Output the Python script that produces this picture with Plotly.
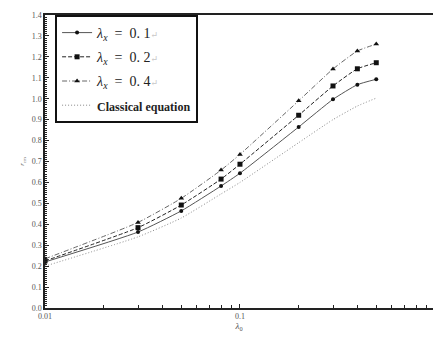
import plotly.graph_objects as go

lambda0 = [0.01, 0.03, 0.05, 0.08, 0.1, 0.2, 0.3, 0.4, 0.5]
r_lx01 = [0.220, 0.363, 0.464, 0.583, 0.644, 0.865, 0.997, 1.067, 1.093]
r_lx02 = [0.225, 0.384, 0.492, 0.616, 0.687, 0.921, 1.061, 1.143, 1.172]
r_lx04 = [0.235, 0.409, 0.524, 0.659, 0.734, 0.990, 1.142, 1.228, 1.261]
r_classic = [0.200, 0.340, 0.430, 0.545, 0.600, 0.790, 0.900, 0.965, 1.003]

names = ["<i>λ<sub>x</sub></i>  =  0. 1<span style='color:#c8c8c8;font-size:9px'>↵</span>",
         "<i>λ<sub>x</sub></i>  =  0. 2<span style='color:#c8c8c8;font-size:9px'>↵</span>",
         "<i>λ<sub>x</sub></i>  =  0. 4<span style='color:#c8c8c8;font-size:9px'>↵</span>",
         "<span style='font-size:12px'><b>Classical equation</b></span>"]

SERIF = "Liberation Serif, DejaVu Serif, serif"

fig = go.Figure()
fig.add_trace(go.Scatter(x=lambda0, y=r_lx01, name=names[0], legendgroup="a",
                         mode="lines+markers", line=dict(color="#555", width=1, shape="spline", smoothing=0.5),
                         marker=dict(symbol="circle", size=4, color="#111")))
fig.add_trace(go.Scatter(x=lambda0, y=r_lx02, name=names[1], legendgroup="b",
                         mode="lines+markers", line=dict(color="#222", width=1, dash="4px,2px", shape="spline", smoothing=0.5),
                         marker=dict(symbol="square", size=5, color="#111")))
fig.add_trace(go.Scatter(x=lambda0, y=r_lx04, name=names[2], legendgroup="c",
                         mode="lines+markers", line=dict(color="#666", width=1, dash="5px,2px,1px,2px", shape="spline", smoothing=0.5),
                         marker=dict(symbol="triangle-up", size=5, color="#111")))
fig.add_trace(go.Scatter(x=lambda0, y=r_classic, name=names[3], legendgroup="d",
                         mode="lines", line=dict(color="#888", width=1, dash="1px,2px", shape="spline", smoothing=0.5)))

minor_x = [0.02, 0.03, 0.04, 0.05, 0.06, 0.07, 0.08, 0.09, 0.2, 0.3, 0.4, 0.5, 0.6, 0.7, 0.8, 0.9]

fig.update_layout(
    width=433, height=338,
    margin=dict(l=45, r=0, t=15, b=30),
    paper_bgcolor="white", plot_bgcolor="white",
    font=dict(family=SERIF, color="#333"),
    showlegend=True,
    legend=dict(x=0.026, y=1.0, xanchor="left", yanchor="top",
                bordercolor="#111", borderwidth=2, bgcolor="white",
                font=dict(family=SERIF, size=14, color="#222"),
                tracegroupgap=3, itemwidth=30),
    xaxis=dict(type="log", range=[-2, -0.01],
               tickvals=[0.01, 0.1], ticktext=["0.01", "0.1"],
               ticks="inside", ticklen=4, tickcolor="#222",
               minor=dict(tickvals=minor_x, ticks="inside", ticklen=3, tickcolor="#222"),
               showline=True, linecolor="#222", linewidth=1.5, mirror=True,
               showgrid=False, zeroline=False,
               tickfont=dict(family=SERIF, size=8, color="#555"),
               title=dict(text="<i>λ</i><sub>0</sub>", font=dict(family=SERIF, size=9, color="#555"), standoff=0)),
    yaxis=dict(range=[0, 1.4], dtick=0.1, tickformat=".1f",
               ticks="inside", ticklen=4, tickcolor="#222",
               minor=dict(dtick=0.01, ticks="inside", ticklen=2, tickcolor="#222"),
               showline=True, linecolor="#222", linewidth=1.5,
               showgrid=False, zeroline=False,
               tickfont=dict(family=SERIF, size=8, color="#555"),
               title=dict(text="<i>r</i><sub>cm</sub>", font=dict(family=SERIF, size=7, color="#666"), standoff=6)),
)

fig.write_html("out.html", config={"displayModeBar": False},
               post_script="document.body.style.margin='0';document.body.style.overflow='hidden';")
